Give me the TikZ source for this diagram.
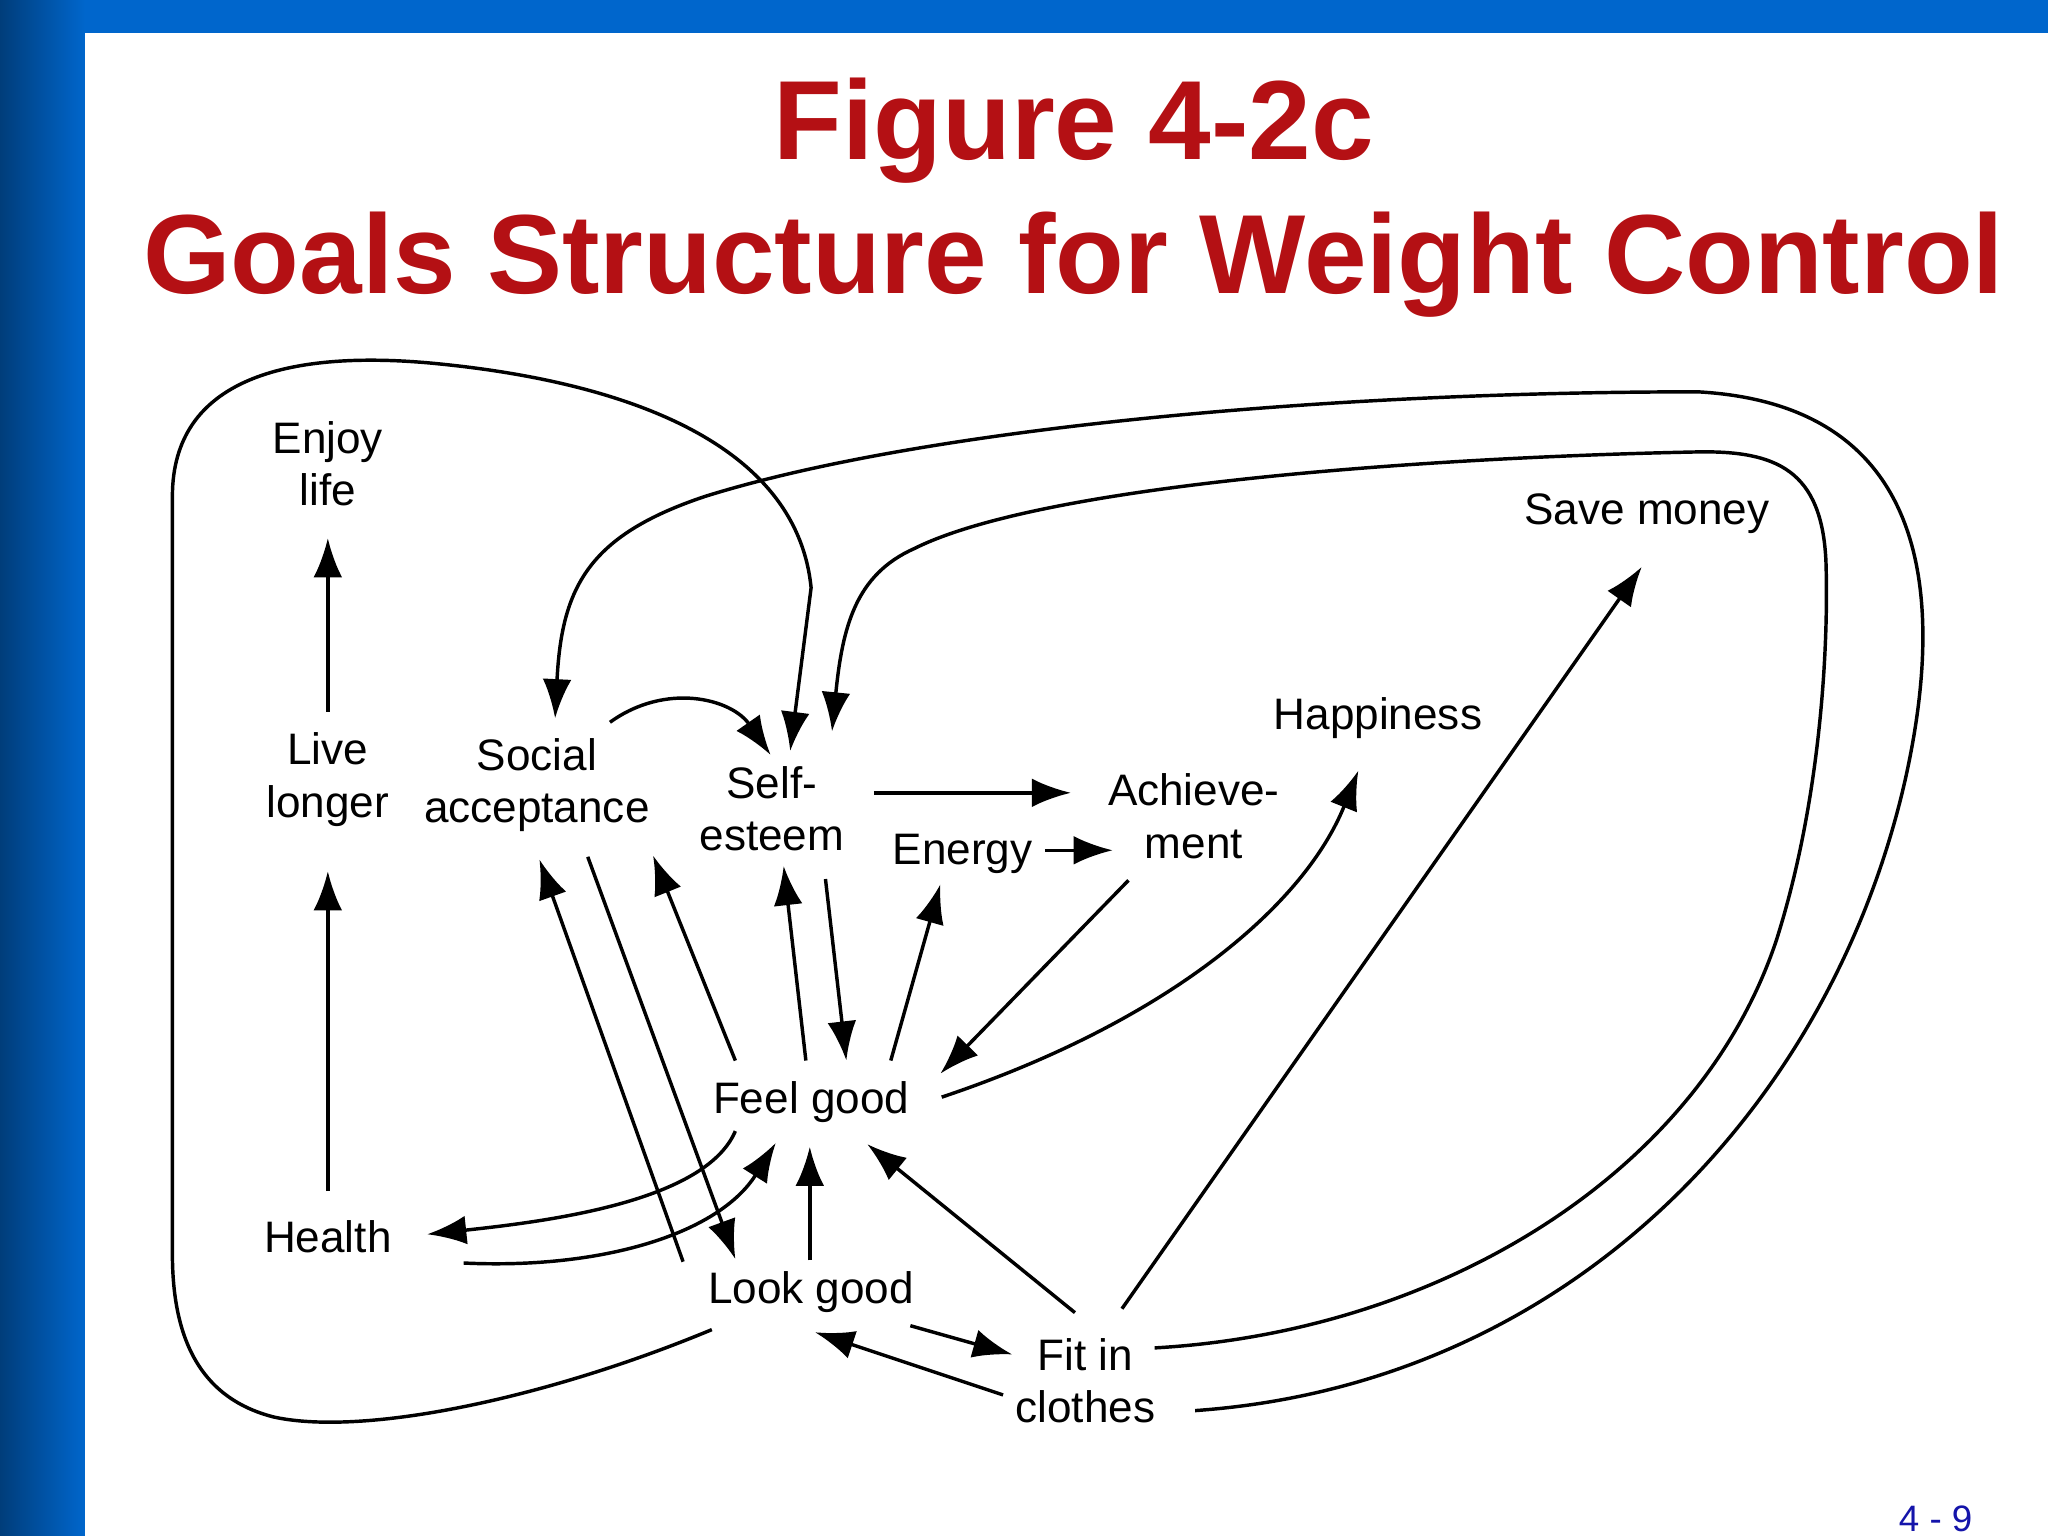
\documentclass[tikz,border=0pt]{standalone}
\usepackage{fontspec}
\setmainfont{Liberation Sans}
\usetikzlibrary{arrows.meta}
\definecolor{barblue}{RGB}{0,102,204}
\definecolor{titlered}{RGB}{180,16,20}
\definecolor{pgblue}{RGB}{20,20,170}
\begin{document}
\begin{tikzpicture}[x=0.01cm,y=-0.01cm,
  lbl/.style={align=center,font=\fontsize{9.6pt}{11.4pt}\selectfont,inner sep=0pt},
  con/.style={line width=0.75pt,-{Latex[length=3mm,width=2.2mm]}},
  plain/.style={line width=0.75pt}]
\useasboundingbox (0,0) rectangle (1568,1176);
\fill[white] (0,0) rectangle (1568,1176);
\fill[barblue] (0,0) rectangle (1568,25);
\shade[left color=barblue!60!black,right color=barblue] (0,0) rectangle (65,1176);
\node[text=titlered,font=\bfseries\fontsize{24.5pt}{28pt}\selectfont] (t1) at (822,100) {Figure 4-2c};
\node[text=titlered,font=\bfseries\fontsize{24.5pt}{28pt}\selectfont] (t2) at (822,203) {Goals Structure for Weight Control};
\node[text=pgblue,font=\fontsize{8pt}{9pt}\selectfont] (pg) at (1482,1163) {4 - 9};

\node[lbl] (enjoy) at (251,355) {Enjoy\\life};
\node[lbl] (live) at (251,597) {Live\\longer};
\node[lbl] (social) at (411,601) {Social\\acceptance};
\node[lbl] (self) at (591,619) {Self-\\esteem};
\node[lbl] (energy) at (737,654) {Energy};
\node[lbl] (achieve) at (914,625) {Achieve-\\ment};
\node[lbl] (happy) at (1055,550) {Happiness};
\node[lbl] (save) at (1261,393) {Save money};
\node[lbl] (feel) at (621,844) {Feel good};
\node[lbl] (health) at (251,947) {Health};
\node[lbl] (look) at (621,989) {Look good};
\node[lbl] (fit) at (831,1057) {Fit in\\clothes};

\draw[con] (251,545) -- (251,412);
\draw[con] (251,912) -- (251,667);
\draw[con] (467,553) .. controls (510,522) and (560,535) .. (590,578);
\draw[con] (669,607) -- (820,607);
\draw[con] (800,651) -- (852,651);
\draw[con] (563,812) -- (500,655);
\draw[con] (617,812) -- (600,663);
\draw[con] (632,673) -- (648,812);
\draw[con] (682,812) -- (720,677);
\draw[con] (864,674) -- (720,822);
\draw[con] (721,840) .. controls (900,780) and (1000,690) .. (1040,590);
\draw[con] (450,656) -- (563,964);
\draw[con] (523,966) -- (413,658);
\draw[con] (563,866) .. controls (540,920) and (420,935) .. (327,945);
\draw[con] (355,967) .. controls (460,972) and (550,945) .. (594,875);
\draw[con] (620,965) -- (620,878);
\draw[con] (823,1005) -- (664,876);
\draw[con] (697,1015) -- (775,1037);
\draw[con] (768,1068) -- (624,1020);
\draw[con] (859,1002) -- (1257,434);
\draw[con] (545,1018) .. controls (420,1070) and (280,1100) .. (210,1085)
  .. controls (150,1070) and (132,1020) .. (132,960) -- (132,380)
  .. controls (132,290) and (220,268) .. (330,278)
  .. controls (480,292) and (610,340) .. (621,450) -- (605,575);
\draw[con] (884,1032) .. controls (1100,1020) and (1300,900) .. (1360,720)
  .. controls (1395,610) and (1400,490) .. (1398,430)
  .. controls (1395,360) and (1360,345) .. (1300,346)
  .. controls (1100,350) and (800,370) .. (700,420)
  .. controls (655,440) and (645,480) .. (637,560);
\draw[con] (915,1080) .. controls (1200,1060) and (1400,850) .. (1458,600)
  .. controls (1490,460) and (1480,310) .. (1300,300)
  .. controls (1000,300) and (700,330) .. (540,380)
  .. controls (450,410) and (430,450) .. (425,550);
\end{tikzpicture}
\end{document}
